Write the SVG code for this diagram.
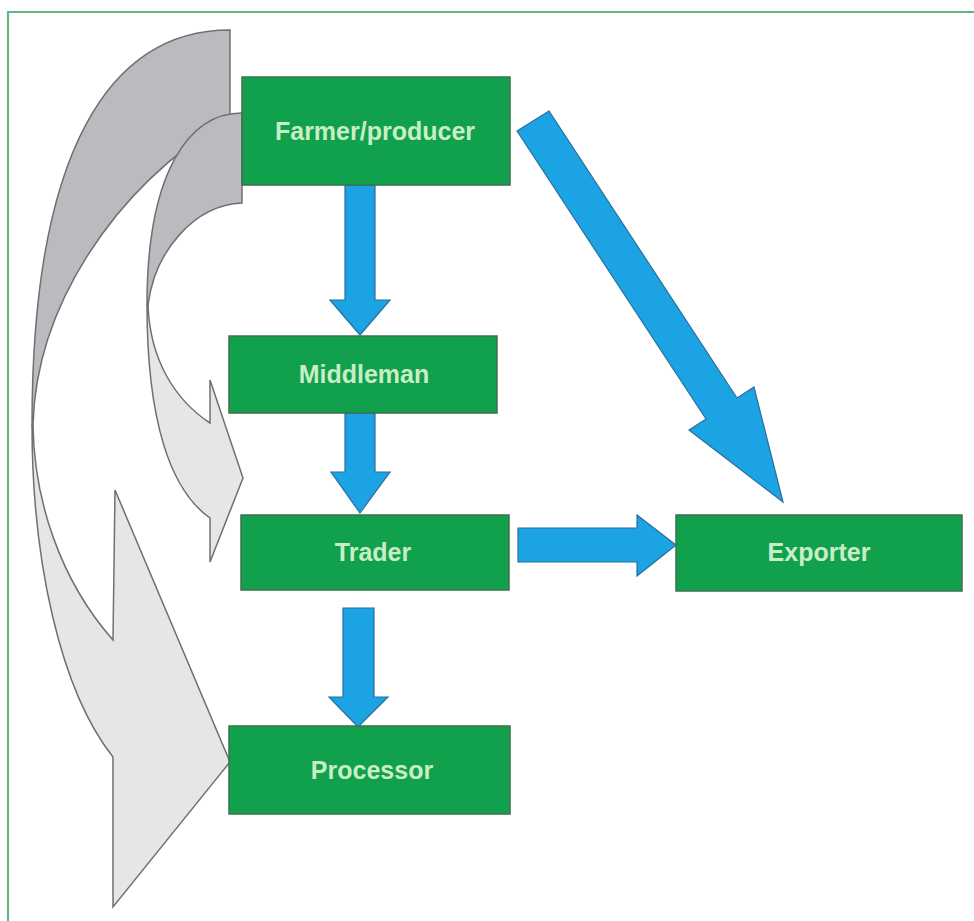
<svg xmlns="http://www.w3.org/2000/svg" width="974" height="921" viewBox="0 0 974 921">
<style>
.box{fill:#11a04b;stroke:#3f6f4e;stroke-width:1.5}
.lbl{font-family:"Liberation Sans",Arial,sans-serif;font-weight:bold;font-size:25px;fill:#c8eec8;text-anchor:middle}
.blue{fill:#1ba3e3;stroke:#2a6f9c;stroke-width:1.2;stroke-linejoin:miter}
.gdark{fill:#bbbbbf;stroke:#707072;stroke-width:1.5;stroke-linejoin:miter}
.glight{fill:#e6e6e6;stroke:#707072;stroke-width:1.5;stroke-linejoin:miter}
.frame{fill:none;stroke:#66b485;stroke-width:2.2}
</style>
<rect x="0" y="0" width="974" height="921" fill="#ffffff"/>
<path class="frame" d="M8,921 L8,12 L974,12"/>
<g id="connectors">
  <g id="curve-farmer-processor">
    <path class="gdark" d="M230,30 C110,30 32,150 32,425 L33,425 C36,310 110,190 230,118 Z"/>
    <path class="glight" d="M32,425 C32,560 60,690 113,757 L113,907 L230,762 L115,490 L113,640 C60,580 34,500 33,425 Z"/>
  </g>
  <g id="curve-farmer-trader">
    <path class="gdark" d="M242,113 C190,113 147,170 147,305 L148,305 C155,250 195,205 242,203 Z"/>
    <path class="glight" d="M147,305 C147,420 170,490 210,518 L210,562 L243,478 L210,380 L210,423 C175,400 150,360 148,305 Z"/>
  </g>
  <polygon id="farmer-middleman" class="blue" points="345,185 375,185 375,300 390,300 360,335 330,300 345,300"/>
  <polygon id="middleman-trader" class="blue" points="345,413 375,413 375,472 390,472 360,513 331,472 345,472"/>
  <polygon id="trader-processor" class="blue" points="343,608 374,608 374,697 388,697 358,727 329,697 343,697"/>
  <polygon id="trader-exporter" class="blue" points="518,528 637,528 637,515 676,545 637,576 637,562 518,562"/>
  <polygon id="farmer-exporter" class="blue" points="517,131 549,111 737,398 754,387 783,502 689,430 706,419"/>
</g>
<g id="node-farmer">
  <rect class="box" x="242" y="77" width="268" height="108"/>
  <text class="lbl" x="375" y="140">Farmer/producer</text>
</g>
<g id="node-middleman">
  <rect class="box" x="229" y="336" width="268" height="77"/>
  <text class="lbl" x="364" y="383">Middleman</text>
</g>
<g id="node-trader">
  <rect class="box" x="241" y="515" width="268" height="75"/>
  <text class="lbl" x="373" y="561">Trader</text>
</g>
<g id="node-exporter">
  <rect class="box" x="676" y="515" width="286" height="76"/>
  <text class="lbl" x="819" y="561">Exporter</text>
</g>
<g id="node-processor">
  <rect class="box" x="229" y="726" width="281" height="88"/>
  <text class="lbl" x="372" y="779">Processor</text>
</g>
</svg>
